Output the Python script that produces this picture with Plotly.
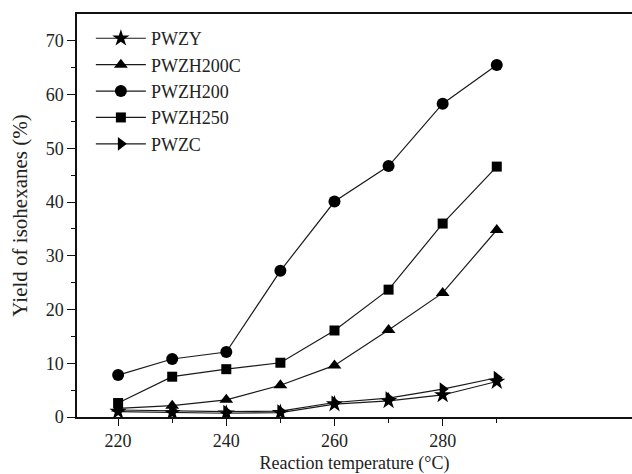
import plotly.graph_objects as go

temps = [220, 230, 240, 250, 260, 270, 280, 290]
pwzy = [1.0, 0.8, 0.7, 0.8, 2.4, 3.0, 4.1, 6.6]
pwzh200c = [1.6, 2.1, 3.2, 5.9, 9.6, 16.2, 23.1, 34.8]
pwzh200 = [7.8, 10.8, 12.1, 27.2, 40.1, 46.7, 58.3, 65.5]
pwzh250 = [2.6, 7.5, 8.9, 10.1, 16.1, 23.7, 36.0, 46.6]
pwzc = [1.3, 1.2, 1.0, 1.1, 2.7, 3.5, 5.2, 7.3]

series = [
    ("PWZY", pwzy, "star", 13),
    ("PWZH200C", pwzh200c, "triangle-up", 12),
    ("PWZH200", pwzh200, "circle", 12),
    ("PWZH250", pwzh250, "square", 10),
    ("PWZC", pwzc, "triangle-right", 12),
]

fig = go.Figure()
for name, vals, sym, sz in series:
    fig.add_trace(go.Scatter(
        x=temps, y=vals, name=name, mode="lines+markers",
        line=dict(color="#1a1a1a", width=1.2),
        marker=dict(symbol=sym, size=sz, color="#000000"),
    ))

font_family = "Liberation Serif"
fig.update_layout(
    width=632, height=474,
    margin=dict(l=77, r=0, t=14, b=57),
    paper_bgcolor="white", plot_bgcolor="white",
    font=dict(family=font_family, size=17, color="#222"),
    showlegend=True,
    legend=dict(x=0.025, y=0.985, xanchor="left", yanchor="top",
                bgcolor="rgba(0,0,0,0)", font=dict(size=18, family=font_family, color="#222"),
                itemwidth=50, tracegroupgap=0),
    xaxis=dict(
        range=[212.4, 315], showgrid=False, zeroline=False, automargin=False,
        showline=True, linecolor="#111", linewidth=1.5, mirror=True,
        ticks="outside", ticklen=7, tickwidth=1.3, tickcolor="#111",
        tickvals=[220, 240, 260, 280], tickfont=dict(size=18, family=font_family),
        minor=dict(tickvals=[230, 250, 270, 290], ticks="outside", ticklen=4, tickwidth=1.2, tickcolor="#111"),
        title=dict(text="Reaction temperature (°C)", font=dict(size=18, family=font_family), standoff=12),
    ),
    yaxis=dict(
        range=[0, 75], showgrid=False, zeroline=False, automargin=False,
        showline=True, linecolor="#111", linewidth=1.5,
        ticks="outside", ticklen=8, tickwidth=1.3, tickcolor="#111",
        tickvals=[0, 10, 20, 30, 40, 50, 60, 70], tickfont=dict(size=18, family=font_family),
        minor=dict(tickvals=[5, 15, 25, 35, 45, 55, 65], ticks="outside", ticklen=4, tickwidth=1.2, tickcolor="#111"),
        title=dict(text="Yield of isohexanes (%)", font=dict(size=21, family=font_family), standoff=12),
    ),
)

fig.write_html("out.html")
